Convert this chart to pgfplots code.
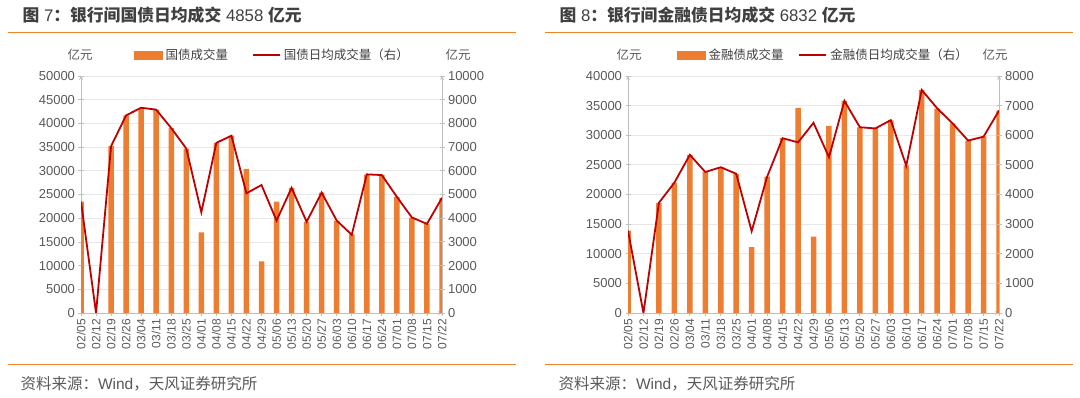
\documentclass[border=0pt]{standalone}
\usepackage{pgfplots}
\pgfplotsset{compat=1.18}
\usepackage{fontspec}
\setmainfont{Liberation Sans}
\newfontfamily\cjk{Noto Sans CJK SC}
\definecolor{barc}{RGB}{237,125,49}
\definecolor{linec}{RGB}{192,0,0}
\definecolor{rulec}{RGB}{240,130,40}
\definecolor{gridc}{RGB}{232,232,232}
\definecolor{axisc}{RGB}{191,191,191}
\definecolor{txt}{RGB}{89,89,89}
\definecolor{ttl}{RGB}{64,64,64}

\pgfplotstableread{
x y
0 23500
1 0
2 35200
3 41700
4 43300
5 42900
6 39000
7 34700
8 17000
9 35900
10 37400
11 30400
12 10900
13 23500
14 26400
15 19300
16 25400
17 19500
18 16600
19 29200
20 29100
21 24500
22 20100
23 18800
24 24300
}\govbar
\pgfplotstableread{
x y
0 4700
1 0
2 7040
3 8340
4 8660
5 8580
6 7800
7 6940
8 4250
9 7180
10 7480
11 5050
12 5400
13 3900
14 5280
15 3850
16 5080
17 3900
18 3300
19 5850
20 5820
21 4900
22 4030
23 3760
24 4858
}\govline
\pgfplotstableread{
x y
0 13900
1 0
2 18600
3 22000
4 26700
5 23800
6 24600
7 23500
8 11100
9 23000
10 29500
11 34600
12 12900
13 31600
14 35800
15 31350
16 31200
17 32500
18 24900
19 37600
20 34500
21 32000
22 29100
23 29800
24 34160
}\finbar
\pgfplotstableread{
x y
0 2780
1 0
2 3720
3 4400
4 5340
5 4760
6 4920
7 4700
8 2760
9 4600
10 5900
11 5760
12 6420
13 5260
14 7160
15 6270
16 6230
17 6510
18 4970
19 7530
20 6910
21 6400
22 5820
23 5950
24 6832
}\finline

\pgfplotsset{
  base/.style={
    scale only axis, height=237pt,
    xmin=0, xmax=24,
    scaled y ticks=false,
    tick label style={font=\fontsize{13}{13}\selectfont, text=txt},
    /pgf/number format/assume math mode=true,
    /pgf/number format/1000 sep={},
    tick align=outside, major tick length=5pt,
    tick style={draw=axisc, line width=0.8pt},
    axis line style={draw=axisc, line width=0.8pt, -},
  },
  barax/.style={
    base,
    axis x line=bottom, axis y line=left,
    ymajorgrids, grid style={draw=gridc, line width=0.8pt},
    xtick={0,...,24},
    xticklabels={02/05,02/12,02/19,02/26,03/04,03/11,03/18,03/25,04/01,04/08,04/15,04/22,04/29,05/06,05/13,05/20,05/27,06/03,06/10,06/17,06/24,07/01,07/08,07/15,07/22},
    xticklabel style={rotate=90, anchor=east, font=\fontsize{12}{12}\selectfont},
  },
  lineax/.style={
    base,
    axis x line=none, axis y line=right,
    legend columns=2,
    legend style={draw=none, fill=none, inner sep=0pt, anchor=west,
      font=\fontsize{12.5}{12.5}\selectfont\cjk, text=ttl,
      column sep=3pt, nodes={inner sep=0pt}},
  },
  barleg/.style={legend image code/.code={\fill[barc] (0pt,-3.8pt) rectangle (28pt,3.8pt);}},
  lineleg/.style={legend image code/.code={\draw[linec, line width=1.8pt] (0pt,0pt) -- (27pt,0pt);}},
}

\begin{document}
\begin{tikzpicture}
\useasboundingbox (0,0) rectangle (1080pt,397pt);

% ---------- left panel ----------
\node[anchor=west, text=ttl, font=\fontsize{16.8}{16.8}\selectfont] at (19pt,381.5pt)
  {{\cjk\bfseries 图}\ 7{\cjk\bfseries ：银行间国债日均成交}\ 4858\ {\cjk\bfseries 亿元}};
\draw[rulec, line width=1.5pt] (8pt,364.5pt) -- (516pt,364.5pt);
\draw[rulec, line width=1.5pt] (8pt,32.7pt) -- (516pt,32.7pt);
\node[anchor=west, text=txt, font=\fontsize{15.5}{15.5}\selectfont] at (17pt,13.7pt)
  {{\cjk 资料来源：}Wind{\cjk ，天风证券研究所}};
\node[text=txt, font=\fontsize{12.5}{12.5}\selectfont\cjk] at (80pt,342pt) {亿元};
\node[text=txt, font=\fontsize{12.5}{12.5}\selectfont\cjk] at (458pt,342pt) {亿元};

\begin{axis}[barax, at={(81pt,84pt)}, anchor=south west, width=361pt,
  ymin=0, ymax=50000, ytick={0,5000,...,50000}]
\addplot[ybar, bar width=5.5pt, fill=barc, draw=none] table[x=x,y=y] {\govbar};
\end{axis}
\begin{axis}[lineax, at={(81pt,84pt)}, anchor=south west, width=361pt,
  ymin=0, ymax=10000, ytick={0,1000,...,10000},
  legend style={at={(0.147,1.089)}, /tikz/every even column/.append style={column sep=24pt}}]
\addlegendimage{barleg}
\addlegendentry{国债成交量}
\addplot[linec, line width=1.8pt, mark=none, lineleg] table[x=x,y=y] {\govline};
\addlegendentry{国债日均成交量（右）}
\end{axis}

% ---------- right panel ----------
\node[anchor=west, text=ttl, font=\fontsize{16.8}{16.8}\selectfont] at (556pt,381.5pt)
  {{\cjk\bfseries 图}\ 8{\cjk\bfseries ：银行间金融债日均成交}\ 6832\ {\cjk\bfseries 亿元}};
\draw[rulec, line width=1.5pt] (545pt,364.5pt) -- (1073pt,364.5pt);
\draw[rulec, line width=1.5pt] (545pt,32.7pt) -- (1073pt,32.7pt);
\node[anchor=west, text=txt, font=\fontsize{15.5}{15.5}\selectfont] at (555pt,13.7pt)
  {{\cjk 资料来源：}Wind{\cjk ，天风证券研究所}};
\node[text=txt, font=\fontsize{12.5}{12.5}\selectfont\cjk] at (629pt,342pt) {亿元};
\node[text=txt, font=\fontsize{12.5}{12.5}\selectfont\cjk] at (995pt,342pt) {亿元};

\begin{axis}[barax, at={(628pt,84pt)}, anchor=south west, width=371pt,
  ymin=0, ymax=40000, ytick={0,5000,...,40000}]
\addplot[ybar, bar width=5.5pt, fill=barc, draw=none] table[x=x,y=y] {\finbar};
\end{axis}
\begin{axis}[lineax, at={(628pt,84pt)}, anchor=south west, width=371pt,
  ymin=0, ymax=8000, ytick={0,1000,...,8000},
  legend style={at={(0.132,1.089)}, /tikz/every even column/.append style={column sep=15pt}}]
\addlegendimage{barleg}
\addlegendentry{金融债成交量}
\addplot[linec, line width=1.8pt, mark=none, lineleg] table[x=x,y=y] {\finline};
\addlegendentry{金融债日均成交量（右）}
\end{axis}
\end{tikzpicture}
\end{document}
